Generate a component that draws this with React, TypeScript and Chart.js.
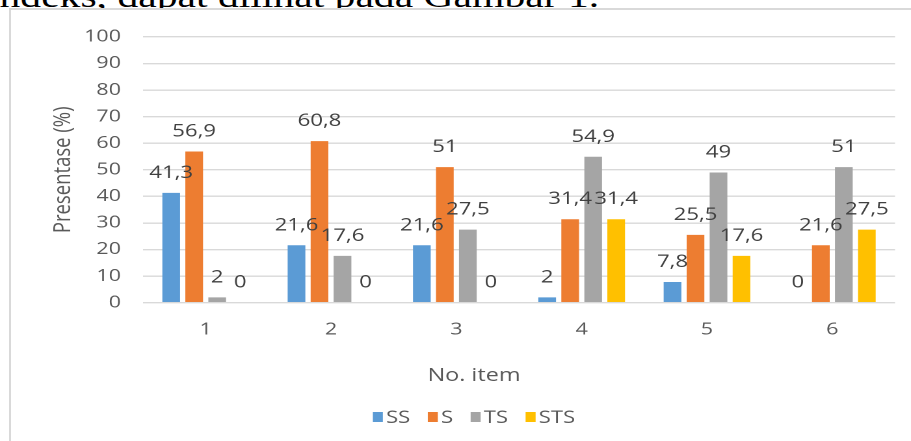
import React, { useEffect, useRef } from "react";
import { Chart, registerables } from "chart.js";

Chart.register(...registerables);

const categories = ["1", "2", "3", "4", "5", "6"];
const seriesNames = ["SS", "S", "TS", "STS"];
const ssValues = [41.3, 21.6, 21.6, 2, 7.8, 0];
const sValues = [56.9, 60.8, 51, 31.4, 25.5, 21.6];
const tsValues = [2, 17.6, 27.5, 54.9, 49, 51];
const stsValues = [0, 0, 0, 31.4, 17.6, 27.5];
const seriesColors = ["#5b9bd5", "#ed7d31", "#a5a5a5", "#ffc000"];
const yMin = 0;
const yMax = 100;
const yStep = 10;
const yTitle = "Presentase (%)";
const xTitle = "No. item";
const introText = "indeks, dapat dilihat pada Gambar 1.";

const FONT = "'Open Sans', 'Noto Sans', sans-serif";
const INTERNAL_W = 712;
const INTERNAL_H = 431;
const CSS_W = 926;

const fmt = (v: number) => String(v).replace(".", ",");

const dataLabelPlugin = {
  id: "dataLabels",
  afterDatasetsDraw(chart: any) {
    const ctx = chart.ctx;
    ctx.save();
    ctx.font = `17px ${FONT}`;
    ctx.fillStyle = "#404040";
    ctx.textAlign = "center";
    ctx.textBaseline = "alphabetic";
    chart.data.datasets.forEach((ds: any, i: number) => {
      const meta = chart.getDatasetMeta(i);
      meta.data.forEach((el: any, j: number) => {
        ctx.fillText(fmt(ds.data[j]), el.x, el.y - 15);
      });
    });
    ctx.restore();
  },
};

const xTitleLegendPlugin = {
  id: "xTitleLegend",
  afterDraw(chart: any) {
    const ctx = chart.ctx;
    ctx.save();
    ctx.fillStyle = "#595959";
    ctx.textBaseline = "middle";
    ctx.textAlign = "center";
    ctx.font = `18px ${FONT}`;
    ctx.fillText(xTitle, chart.width / 2, 366);

    // legend
    ctx.font = `17px ${FONT}`;
    ctx.textAlign = "left";
    const boxW = 7.7;
    const boxH = 10;
    const gapBoxText = 2.4;
    const gapItems = 13.5;
    const items = chart.data.datasets.map((ds: any) => ({
      label: ds.label,
      color: ds.backgroundColor,
      w: ctx.measureText(ds.label).width,
    }));
    let total = 0;
    items.forEach((it: any, k: number) => {
      total += boxW + gapBoxText + it.w + (k < items.length - 1 ? gapItems : 0);
    });
    let x = chart.width / 2 - total / 2;
    const cy = 407;
    items.forEach((it: any) => {
      ctx.fillStyle = it.color;
      ctx.fillRect(x, cy - boxH / 2, boxW, boxH);
      x += boxW + gapBoxText;
      ctx.fillStyle = "#595959";
      ctx.fillText(it.label, x, cy + 1);
      x += it.w + gapItems;
    });
    ctx.restore();
  },
};

export default function App() {
  const canvasRef = useRef<HTMLCanvasElement | null>(null);

  useEffect(() => {
    if (!canvasRef.current) return;
    const seriesValues = [ssValues, sValues, tsValues, stsValues];
    const chart = new Chart(canvasRef.current, {
      type: "bar",
      data: {
        labels: categories,
        datasets: seriesNames.map((name, i) => ({
          label: name,
          data: seriesValues[i],
          backgroundColor: seriesColors[i],
          borderWidth: 0,
          categoryPercentage: 0.734,
          barPercentage: 0.77,
        })),
      },
      options: {
        animation: false,
        responsive: false,
        devicePixelRatio: 2,
        layout: { padding: { left: 0, right: 32.3, top: 22.7, bottom: 0 } },
        plugins: {
          legend: { display: false },
          tooltip: { enabled: false },
        },
        scales: {
          x: {
            grid: { display: false, drawTicks: false },
            border: { display: false },
            ticks: {
              color: "#595959",
              font: { family: FONT, size: 16.5 },
              padding: 17,
            },
            afterFit: (scale: any) => {
              scale.height = INTERNAL_H - 292.7;
            },
          },
          y: {
            min: yMin,
            max: yMax,
            grid: { color: "#d9d9d9", lineWidth: 1.4, drawTicks: false },
            border: { display: false },
            ticks: {
              stepSize: yStep,
              color: "#595959",
              font: { family: FONT, size: 16.5 },
              padding: 17,
            },
            title: {
              display: true,
              text: yTitle,
              color: "#595959",
              font: { family: FONT, size: 18.5 },
              padding: { top: 29, bottom: 0 },
            },
            afterFit: (scale: any) => {
              scale.width = 101.5;
            },
          },
        },
      },
      plugins: [dataLabelPlugin, xTitleLegendPlugin],
    });
    return () => chart.destroy();
  }, []);

  return (
    <div
      style={{
        position: "fixed",
        left: 0,
        top: 0,
        width: 911,
        height: 441,
        overflow: "hidden",
        background: "#ffffff",
      }}
    >
      <div
        style={{
          position: "absolute",
          left: -12,
          top: -20,
          fontFamily: "'Liberation Serif', 'DejaVu Serif', serif",
          fontSize: 32,
          lineHeight: "32px",
          color: "#000",
          whiteSpace: "nowrap",
          transform: "scaleX(1.3)",
          transformOrigin: "left top",
        }}
      >
        {introText}
      </div>
      <div
        style={{
          position: "absolute",
          left: 9,
          top: 8,
          width: 960,
          height: 470,
          borderLeft: "2px solid #d9d9d9",
          borderTop: "2px solid #d9d9d9",
          boxSizing: "border-box",
          background: "#ffffff",
        }}
      >
        <canvas
          ref={canvasRef}
          width={INTERNAL_W}
          height={INTERNAL_H}
          style={{ display: "block", width: CSS_W, height: INTERNAL_H }}
        />
      </div>
    </div>
  );
}
